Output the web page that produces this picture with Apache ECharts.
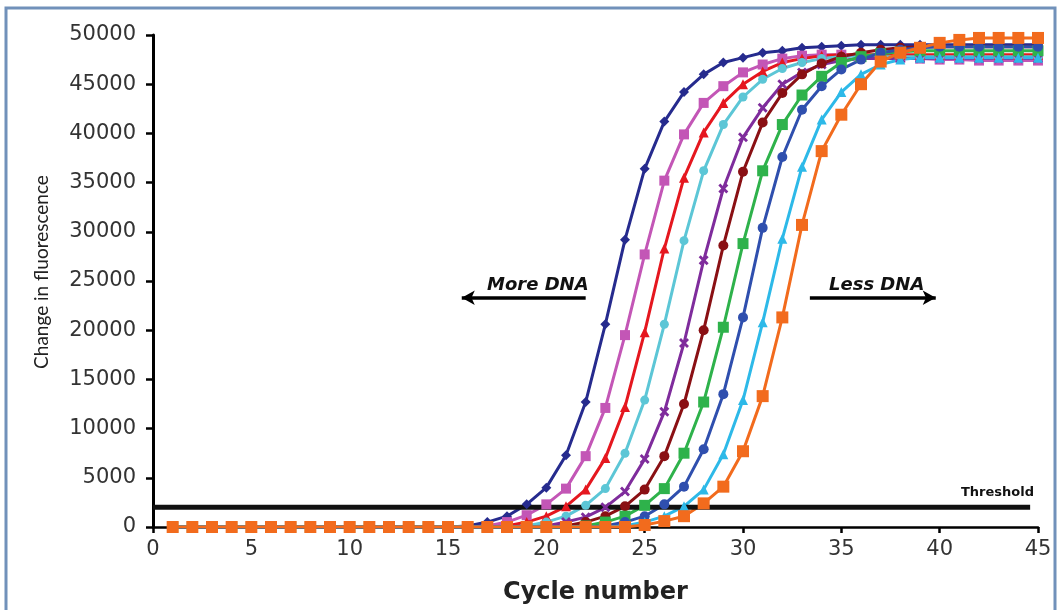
<!DOCTYPE html>
<html>
<head>
<meta charset="utf-8">
<script src="https://cdn.jsdelivr.net/npm/echarts@6/dist/echarts.min.js"></script>
<style>
  html, body { margin: 0; padding: 0; background: #fff; }
  #chart { width: 1058px; height: 610px; }
</style>
</head>
<body>
<div id="chart"></div>
<script>
const cycles = [1, 2, 3, 4, 5, 6, 7, 8, 9, 10, 11, 12, 13, 14, 15, 16, 17, 18, 19, 20, 21, 22, 23,
    24, 25, 26, 27, 28, 29, 30, 31, 32, 33, 34, 35, 36, 37, 38, 39, 40, 41, 42, 43, 44, 45];
const xTicks = [0, 5, 10, 15, 20, 25, 30, 35, 40, 45];
const yTicks = [0, 5000, 10000, 15000, 20000, 25000, 30000, 35000, 40000, 45000, 50000];

// one curve per dilution, earliest first
const navy = [0, 0, 0, 0, 0, 0, 0, 0, 0, 0, 0, 0, 0, 0, 0,
    100, 500, 1100, 2300, 4000, 7300, 12700, 20600, 29200, 36400,
    41200, 44200, 46000, 47200, 47700, 48200, 48400, 48700, 48800, 48900,
    49000, 49000, 49000, 49000, 49000, 49000, 49000, 49000, 49000, 49000];
const magenta = [0, 0, 0, 0, 0, 0, 0, 0, 0, 0, 0, 0, 0, 0, 0, 0,
    100, 500, 1200, 2300, 3900, 7200, 12100, 19500, 27700, 35200,
    39900, 43100, 44800, 46200, 47000, 47600, 47900, 48000, 48000, 47900,
    47800, 47700, 47600, 47500, 47500, 47400, 47400, 47400, 47400];
const red = [0, 0, 0, 0, 0, 0, 0, 0, 0, 0, 0, 0, 0, 0, 0, 0, 0,
    100, 500, 1100, 2100, 3800, 7000, 12200, 19800, 28300, 35500,
    40100, 43100, 45000, 46300, 47200, 47600, 47900, 48000,
    48000, 48000, 48000, 48000, 48000, 48000, 48000, 48000, 48000, 48000];
const cyan = [0, 0, 0, 0, 0, 0, 0, 0, 0, 0, 0, 0, 0, 0, 0, 0, 0, 0,
    100, 500, 1100, 2200, 3900, 7500, 12900, 20600, 29100, 36200,
    40900, 43700, 45500, 46600, 47200, 47600, 47800, 47900,
    47800, 47800, 47800, 47800, 47800, 47800, 47800, 47800, 47800];
const purple = [0, 0, 0, 0, 0, 0, 0, 0, 0, 0, 0, 0, 0, 0, 0, 0, 0, 0, 0,
    100, 500, 1000, 2000, 3600, 6900, 11700, 18700, 27100, 34400,
    39600, 42600, 45000, 46200, 47000, 47400, 47600,
    47600, 47600, 47600, 47600, 47600, 47600, 47600, 47600, 47600];
const maroon = [0, 0, 0, 0, 0, 0, 0, 0, 0, 0, 0, 0, 0, 0, 0, 0, 0, 0, 0, 0,
    100, 500, 1100, 2100, 3800, 7200, 12500, 20000, 28600, 36100,
    41100, 44100, 46000, 47100, 47800, 48200, 48500, 48700,
    48800, 48800, 48800, 48800, 48800, 48800, 48800];
const green = [0, 0, 0, 0, 0, 0, 0, 0, 0, 0, 0, 0, 0, 0, 0, 0, 0, 0, 0, 0, 0,
    100, 500, 1100, 2200, 3900, 7500, 12700, 20300, 28800, 36200,
    40900, 43900, 45800, 47200, 47800, 48100, 48300,
    48400, 48400, 48400, 48400, 48400, 48400, 48400];
const blue = [0, 0, 0, 0, 0, 0, 0, 0, 0, 0, 0, 0, 0, 0, 0, 0, 0, 0, 0, 0, 0, 0,
    100, 500, 1100, 2300, 4100, 7900, 13500, 21300, 30400, 37600,
    42400, 44800, 46500, 47500, 48200, 48500, 48700,
    48800, 48800, 48800, 48800, 48800, 48800];
const sky = [0, 0, 0, 0, 0, 0, 0, 0, 0, 0, 0, 0, 0, 0, 0, 0, 0, 0, 0, 0, 0, 0, 0,
    100, 500, 1100, 2100, 3800, 7400, 12900, 20800, 29300, 36600,
    41400, 44200, 46000, 47000, 47500, 47700,
    47700, 47700, 47700, 47700, 47700, 47700];
const orange = [0, 0, 0, 0, 0, 0, 0, 0, 0, 0, 0, 0, 0, 0, 0, 0, 0, 0, 0, 0, 0, 0, 0, 0,
    200, 600, 1100, 2400, 4100, 7700, 13300, 21300, 30700, 38200, 41900,
    45000, 47300, 48200, 48700, 49200, 49500,
    49700, 49700, 49700, 49700];

const threshold = 2000;
const moreArrow = [22.0, 15.7];
const lessArrow = [33.4, 39.8];
const arrowLevel = 23300;

const xMark = 'path://M2,0L5,3L8,0L10,2L7,5L10,8L8,10L5,7L2,10L0,8L3,5L0,2Z';

const curves = [
    { data: navy, color: '#262B8E', symbol: 'diamond', size: 10 },
    { data: magenta, color: '#C356B6', symbol: 'rect', size: 10 },
    { data: red, color: '#E5171F', symbol: 'triangle', size: 10 },
    { data: cyan, color: '#5CC6D6', symbol: 'circle', size: 9 },
    { data: purple, color: '#7F2C9C', symbol: xMark, size: 10 },
    { data: maroon, color: '#8A1014', symbol: 'circle', size: 10 },
    { data: green, color: '#2EB24B', symbol: 'rect', size: 11 },
    { data: blue, color: '#2F4FAE', symbol: 'circle', size: 10 },
    { data: sky, color: '#2DB9E8', symbol: 'triangle', size: 10 },
    { data: orange, color: '#F26B1D', symbol: 'rect', size: 12 }
];

const series = curves.map(function (c) {
    return {
        type: 'line',
        data: cycles.map(function (x, i) { return [x, c.data[i]]; }),
        symbol: c.symbol,
        symbolSize: c.size,
        showAllSymbol: true,
        color: c.color,
        lineStyle: { width: 3, color: c.color },
        itemStyle: { color: c.color },
        animation: false
    };
});

series.push({
    type: 'line',
    data: [[0, threshold], [44.6, threshold]],
    symbol: 'none',
    lineStyle: { width: 5, color: '#111' },
    animation: false,
    markLine: {
        silent: true,
        animation: false,
        symbol: ['arrow', 'none'],
        symbolSize: [11, 13],
        lineStyle: { type: 'solid', width: 3.5, color: '#000' },
        label: { show: false },
        data: [
            [{ coord: [moreArrow[1], arrowLevel] }, { coord: [moreArrow[0], arrowLevel] }],
            [{ coord: [lessArrow[1], arrowLevel] }, { coord: [lessArrow[0], arrowLevel] }]
        ]
    }
});

const chart = echarts.init(document.getElementById('chart'));
chart.setOption({
    backgroundColor: '#fff',
    animation: false,
    grid: { left: 153, right: 20, top: 35, bottom: 79 },
    xAxis: {
        type: 'value',
        min: xTicks[0],
        max: xTicks[xTicks.length - 1],
        interval: 5,
        name: 'Cycle number',
        nameLocation: 'middle',
        nameGap: 54,
        nameTextStyle: { fontFamily: 'DejaVu Sans', fontWeight: 'bold', fontSize: 24, color: '#222' },
        axisLine: { lineStyle: { color: '#000', width: 2.5 } },
        axisTick: { length: 6, lineStyle: { color: '#000', width: 2.5 } },
        axisLabel: { fontFamily: 'DejaVu Sans', fontSize: 21, color: '#333', margin: 12 },
        splitLine: { show: false }
    },
    yAxis: {
        type: 'value',
        min: yTicks[0],
        max: yTicks[yTicks.length - 1],
        interval: 5000,
        name: 'Change in fluorescence',
        nameLocation: 'middle',
        nameGap: 102,
        nameTextStyle: { fontFamily: 'Lato', fontSize: 19, color: '#222', padding: [0, 0, 0, 18] },
        axisLine: { show: true, lineStyle: { color: '#000', width: 3 } },
        axisTick: { show: true, length: 7, lineStyle: { color: '#000', width: 2.5 } },
        axisLabel: {
            fontFamily: 'DejaVu Sans', fontSize: 21, color: '#333', margin: 17,
            formatter: function (v) { return String(v); }
        },
        splitLine: { show: false }
    },
    graphic: [
        {
            type: 'rect', silent: true,
            shape: { x: 6, y: 8, width: 1049, height: 640 },
            style: { fill: 'none', stroke: '#7191BA', lineWidth: 3 }
        },
        {
            type: 'text', left: 487, top: 276,
            style: { text: 'More DNA', font: 'italic bold 18px "DejaVu Sans"', fill: '#111' }
        },
        {
            type: 'text', left: 829, top: 276,
            style: { text: 'Less DNA', font: 'italic bold 18px "DejaVu Sans"', fill: '#111' }
        },
        {
            type: 'text', right: 24, top: 486,
            style: { text: 'Threshold', font: 'bold 13px "DejaVu Sans"', fill: '#111' }
        }
    ],
    series: series
});
</script>
</body>
</html>
